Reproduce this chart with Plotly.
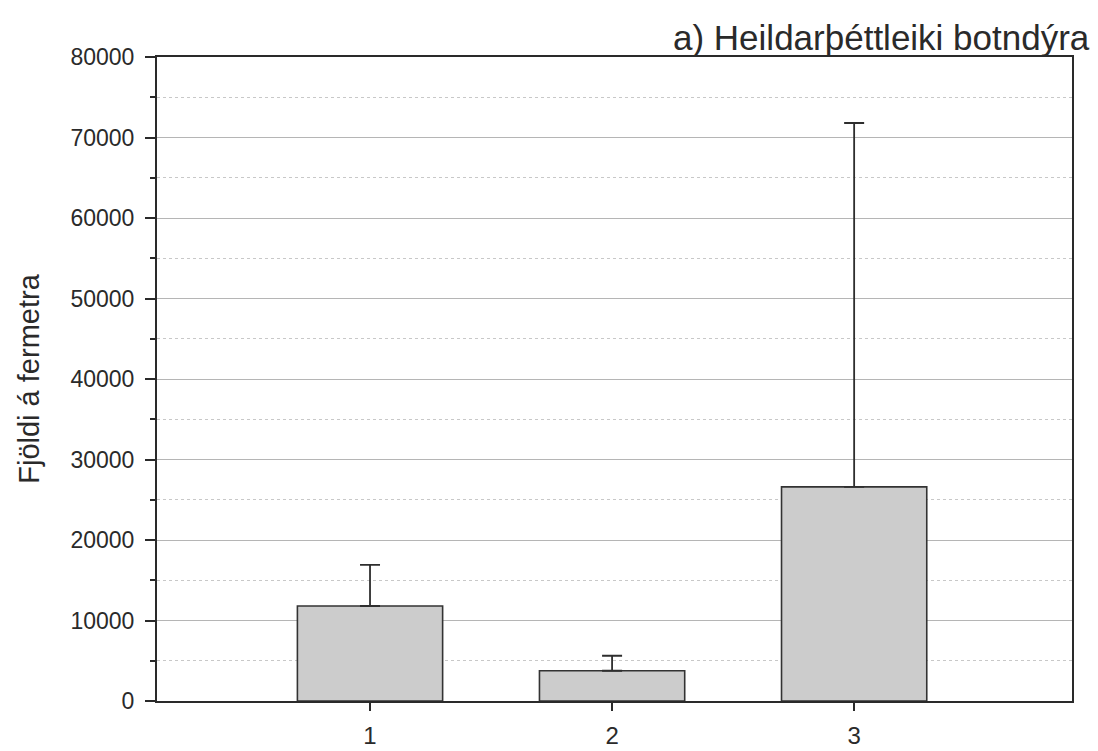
import plotly.graph_objects as go

categories = [1, 2, 3]
category_labels = ["1", "2", "3"]
mean_density = [11800, 3760, 26600]
error_upper = [5100, 1860, 45200]
y_tick_values = [0, 10000, 20000, 30000, 40000, 50000, 60000, 70000, 80000]
y_tick_labels = ["0", "10000", "20000", "30000", "40000", "50000", "60000", "70000", "80000"]
title_text = "a) Heildarþéttleiki botndýra"
y_title = "Fjöldi á fermetra"

FONT = "Liberation Sans, Arial, sans-serif"
INK = "#2a2a2a"

fig = go.Figure()
fig.add_trace(go.Bar(
    x=categories,
    y=mean_density,
    width=0.6,
    marker=dict(color="#cccccc", line=dict(color="#333333", width=1.6)),
    error_y=dict(type="data", array=error_upper, arrayminus=[0, 0, 0], symmetric=False,
                 color="#2e2e2e", thickness=1.8, width=10),
))

fig.update_layout(
    width=1098, height=751,
    margin=dict(l=157, r=26, t=57, b=50),
    paper_bgcolor="white", plot_bgcolor="white",
    showlegend=False,
    font=dict(family=FONT, color=INK),
)

fig.update_xaxes(
    range=[0.12, 3.9],
    tickvals=categories, ticktext=category_labels,
    ticks="outside", ticklen=8, tickwidth=1.8, tickcolor=INK,
    tickfont=dict(size=24, family=FONT, color=INK),
    ticklabelstandoff=4,
    automargin=False,
    showline=True, linecolor=INK, linewidth=2, mirror=True,
    showgrid=False, zeroline=False,
)

fig.update_yaxes(
    range=[0, 80000],
    tickvals=y_tick_values, ticktext=y_tick_labels,
    ticks="outside", ticklen=10, tickwidth=1.8, tickcolor=INK,
    tickfont=dict(size=23, family=FONT, color=INK),
    ticklabelstandoff=6,
    automargin=False,
    showline=True, linecolor=INK, linewidth=2, mirror=True,
    showgrid=True, gridcolor="#b5b5b5", gridwidth=1,
    zeroline=False,
    minor=dict(dtick=5000, ticks="outside", ticklen=5, tickwidth=1.5, tickcolor=INK,
               showgrid=True, gridcolor="#c8c8c8", griddash="dot", gridwidth=1),
    title=dict(text=y_title, font=dict(size=29, family=FONT, color=INK), standoff=22),
)

fig.add_annotation(
    text=title_text, xref="paper", yref="paper",
    x=1.022, y=1.0, xanchor="right", yanchor="bottom", yshift=-2,
    showarrow=False, font=dict(size=35, family=FONT, color=INK),
)

fig.write_html("out.html")
